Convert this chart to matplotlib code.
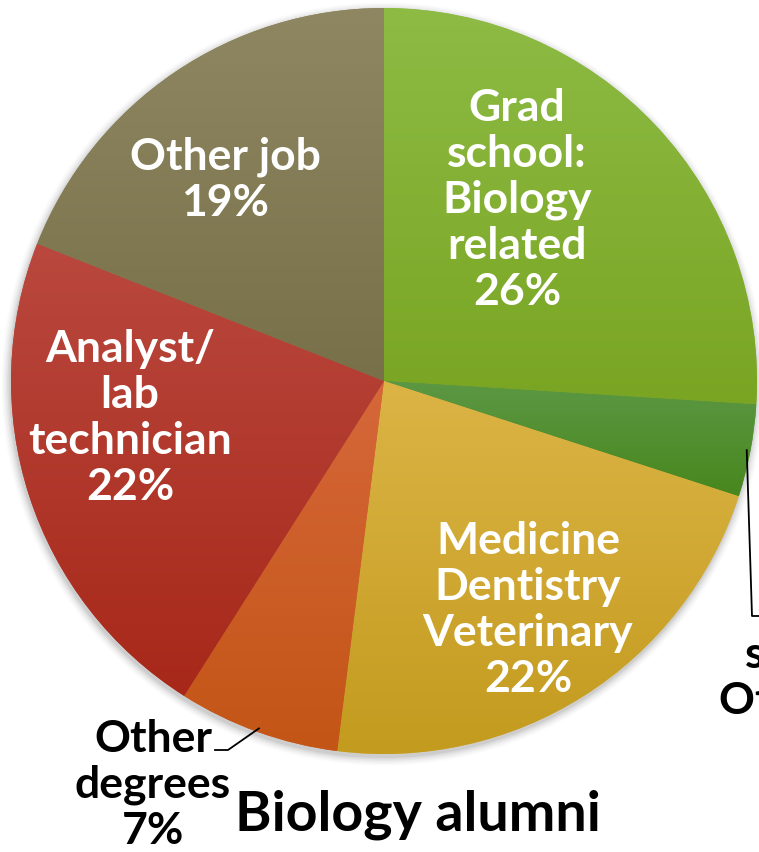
import numpy as np
import matplotlib.pyplot as plt
from matplotlib.colors import to_rgb
from matplotlib.patches import Circle

# slices, clockwise from 12 o'clock
labels = ['Grad\nschool:\nBiology\nrelated', 'Grad\nschool:\nOther',
          'Medicine\nDentistry\nVeterinary', 'Other\ndegrees',
          'Analyst/\nlab\ntechnician', 'Other job']
percents = [26, 4, 22, 7, 22, 19]
top_colors = ['#8dbb44', '#5c9844', '#dcb446', '#d6673a', '#ba483e', '#8e8762']
bottom_colors = ['#7aa523', '#48871e', '#c39b1e', '#c35516', '#a72819', '#787048']

# label anchor points (pixel coords, y up) and text colour
label_pos = [(517, 653), (815, 198), (528, 243), (153, 68), (130, 435), (225, 673)]
label_color = ['white', 'black', 'white', 'black', 'white', 'white']
title = 'Biology alumni'

FONT = 'Lato'
W, H = 759, 853
CX, CY, R = 384, 471, 373


def gradient_fill(ax, wedge, c_top, c_bot):
    x0, y0, x1, y1 = wedge.get_path().get_extents(wedge.get_patch_transform()).extents
    t = np.linspace(0, 1, 200)[:, None, None]
    img = (1 - t) * np.array(to_rgb(c_top)) + t * np.array(to_rgb(c_bot))
    im = ax.imshow(img, extent=(x0, x1, y0, y1), origin='upper',
                   aspect='auto', interpolation='bilinear', zorder=2)
    im.set_clip_path(wedge)


def main():
    fig = plt.figure(figsize=(W / 100, H / 100), dpi=100)
    ax = fig.add_axes([0, 0, 1, 1])
    ax.axis('off')

    # soft shadow under the pie
    for i, a in enumerate(np.linspace(0.05, 0.015, 6)):
        ax.add_patch(Circle((CX - 1, CY - 3), R + 1 + i * 1.5, color='black',
                            alpha=a, lw=0, zorder=0))
    ax.add_patch(Circle((CX, CY), R - 1, color='#8a6a30', lw=0, zorder=1))

    wedges, _ = ax.pie(percents, startangle=90, counterclock=False,
                       center=(CX, CY), radius=R, colors=top_colors,
                       wedgeprops=dict(linewidth=0, zorder=1))
    for w, ct, cb in zip(wedges, top_colors, bottom_colors):
        gradient_fill(ax, w, ct, cb)
    ax.set_xlim(0, W)
    ax.set_ylim(0, H)
    ax.set_aspect('equal')

    for i, (lab, pct) in enumerate(zip(labels, percents)):
        x, y = label_pos[i]
        if i == 1:
            txt = lab + f' {pct}%'
        else:
            txt = f'{lab}\n{pct}%'
        ax.text(x, y, txt, ha='center', va='center', color=label_color[i],
                fontsize=32, fontweight='bold', family=FONT,
                linespacing=1.18, zorder=5, clip_on=False)

    # leader lines for the outside labels
    for i, (ex, ey) in [(3, (228, 102)), (1, (752, 236))]:
        w = wedges[i]
        mid = np.deg2rad((w.theta1 + w.theta2) / 2)
        sx, sy = CX + 0.99 * R * np.cos(mid), CY + 0.99 * R * np.sin(mid)
        end_x = ex - 13 if i == 3 else ex + 20
        ax.plot([sx, ex, end_x], [sy, ey, ey], color='black', lw=1.3,
                zorder=4, clip_on=False)

    ax.text(418, 38, title, ha='center', va='center', fontsize=40,
            fontweight='bold', family=FONT, color='black')

    fig.savefig('out.png', dpi=100)


if __name__ == '__main__':
    main()
